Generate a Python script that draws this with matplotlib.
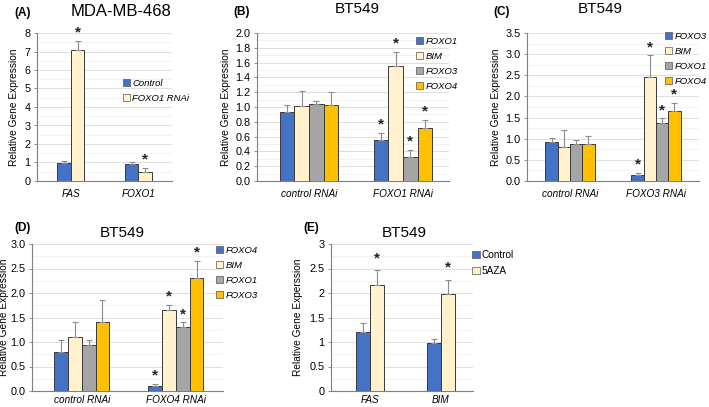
import numpy as np
import matplotlib
matplotlib.use('Agg')
import matplotlib.pyplot as plt
from matplotlib.patches import Patch
from matplotlib.ticker import MultipleLocator, FormatStrFormatter

plt.rcParams['font.family'] = ['Liberation Sans', 'DejaVu Sans']

# ---- data ----
colors = ['#4472C4', '#FFF2CC', '#A5A5A5', '#FFC000']

a_categories = ['FAS', 'FOXO1']
a_series = ['Control', 'FOXO1 RNAi']
a_values = [[0.95, 0.90], [7.07, 0.50]]
a_errors = [[0.15, 0.15], [0.50, 0.21]]
a_stars = [[False, False], [True, True]]

b_categories = ['control RNAi', 'FOXO1 RNAi']
b_series = ['FOXO1', 'BIM', 'FOXO3', 'FOXO4']
b_values = [[0.93, 0.55], [1.02, 1.55], [1.04, 0.32], [1.03, 0.72]]
b_errors = [[0.10, 0.10], [0.20, 0.20], [0.04, 0.10], [0.17, 0.10]]
b_stars = [[False, True]] * 4

c_categories = ['control RNAi', 'FOXO3 RNAi']
c_series = ['FOXO3', 'BIM', 'FOXO1', 'FOXO4']
c_values = [[0.93, 0.14], [0.80, 2.47], [0.88, 1.38], [0.87, 1.65]]
c_errors = [[0.09, 0.05], [0.40, 0.50], [0.10, 0.10], [0.19, 0.20]]
c_stars = [[False, True]] * 4

d_categories = ['control RNAi', 'FOXO4 RNAi']
d_series = ['FOXO4', 'BIM', 'FOXO1', 'FOXO3']
d_values = [[0.80, 0.10], [1.10, 1.65], [0.94, 1.30], [1.40, 2.30]]
d_errors = [[0.25, 0.05], [0.30, 0.10], [0.10, 0.10], [0.46, 0.36]]
d_stars = [[False, True]] * 4

e_categories = ['FAS', 'BIM']
e_series = ['Control', '5AZA']
e_values = [[1.20, 0.97], [2.17, 1.97]]
e_errors = [[0.18, 0.10], [0.30, 0.30]]
e_stars = [[False, False], [True, True]]

W, H = 709, 407
fig = plt.figure(figsize=(W / 100, H / 100), dpi=100)


def px_axes(left, right, top, bottom):
    return fig.add_axes([left / W, 1 - bottom / H, (right - left) / W, (bottom - top) / H])


def panel(rect, xlim, ymax, ystep, fmt, categories, series, values, errors, stars,
          bar_w, ylabel, leg_xy, leg_italic=True, star_pad=1.0, leg_size=6.8, labelpad=3,
          xpad=6):
    ax = px_axes(*rect)
    n = len(series)
    x = np.arange(len(categories))
    for i in range(n):
        pos = x + (i - (n - 1) / 2) * bar_w
        ax.bar(pos, values[i], bar_w, color=colors[i], edgecolor='#3a3a3a',
               linewidth=0.7, zorder=3)
        ax.errorbar(pos, values[i], yerr=[np.zeros(len(x)), errors[i]], fmt='none',
                    ecolor='#8c8c8c', elinewidth=0.8, capsize=2, capthick=0.8, zorder=4)
        for j in range(len(x)):
            if stars[i][j]:
                ax.annotate('*', (pos[j], values[i][j] + errors[i][j]),
                            xytext=(0, star_pad), textcoords='offset points',
                            ha='center', va='bottom', fontsize=11, fontweight='bold',
                            color='#222222', zorder=5)
    ax.set_xlim(*xlim)
    ax.set_ylim(0, ymax)
    ax.yaxis.set_major_locator(MultipleLocator(ystep))
    ax.yaxis.set_minor_locator(MultipleLocator(ystep / 2))
    ax.yaxis.set_major_formatter(FormatStrFormatter(fmt))
    ax.grid(axis='y', which='major', color='#d9d9d9', linewidth=0.6, zorder=0)
    ax.grid(axis='y', which='minor', color='#ededed', linewidth=0.5, zorder=0)
    ax.set_axisbelow(True)
    ax.set_xticks(x)
    ax.set_xticklabels(categories, fontstyle='italic', fontsize=7.2)
    ax.tick_params(axis='x', length=0, pad=xpad)
    ax.tick_params(axis='y', which='major', length=2.5, width=0.6, color='#7f7f7f',
                   labelsize=7.8, pad=2)
    ax.tick_params(axis='y', which='minor', length=0)
    for s in ['top', 'right']:
        ax.spines[s].set_visible(False)
    for s in ['left', 'bottom']:
        ax.spines[s].set_color('#7f7f7f')
        ax.spines[s].set_linewidth(0.8)
    ax.set_ylabel(ylabel, fontsize=7.3, labelpad=labelpad)
    handles = [Patch(facecolor=colors[i], edgecolor='#555555', linewidth=0.5) for i in range(n)]
    ax.legend(handles, series, loc='upper left', bbox_to_anchor=(leg_xy[0] / W, 1 - leg_xy[1] / H),
              bbox_transform=fig.transFigure, frameon=False, handlelength=0.75, handleheight=0.75,
              handletextpad=0.25, labelspacing=0.62, borderpad=0, borderaxespad=0,
              prop={'size': leg_size, 'style': 'italic' if leg_italic else 'normal'})
    return ax


panel((37, 172, 33, 181), (-0.5, 1.5), 8, 1, '%d', a_categories, a_series, a_values, a_errors,
      a_stars, 0.2, 'Relative Gene Expression', (123, 79), labelpad=4)
panel((257, 449, 33, 181), (-0.553, 1.49), 2.0, 0.2, '%.1f', b_categories, b_series, b_values,
      b_errors, b_stars, 0.155, 'Relative Gene Expression', (416, 37))
panel((527, 699, 33, 181), (-0.5, 1.5), 3.5, 0.5, '%.1f', c_categories, c_series, c_values,
      c_errors, c_stars, 0.143, 'Relative Gene Expression', (665, 32))
panel((32, 223, 244, 391), (-0.53, 1.5), 3.0, 0.5, '%.1f', d_categories, d_series, d_values,
      d_errors, d_stars, 0.146, 'Relative Gene Expression', (216, 246), labelpad=1, xpad=3)
panel((331, 473, 244, 391), (-0.55, 1.45), 3, 0.5, '%g', e_categories, e_series, e_values,
      e_errors, e_stars, 0.2, 'Relative Gene Experssion', (472, 250), leg_italic=False,
      star_pad=3.5, leg_size=7.2, labelpad=5, xpad=3)

# panel letters and titles
titles = [('(A)', 23, 13, 'MDA-MB-468', 121, 12, 12),
          ('(B)', 242, 12, 'BT549', 357, 9, 11),
          ('(C)', 502, 12, 'BT549', 600, 9, 11),
          ('(D)', 23, 228, 'BT549', 122, 233, 11),
          ('(E)', 311, 228, 'BT549', 404, 233, 11)]
for letter, lx, ly, title, tx, ty, size in titles:
    fig.text(lx / W, 1 - ly / H, letter, ha='center', va='center', fontsize=8.5, fontweight='bold')
    fig.text(tx / W, 1 - ty / H, title, ha='center', va='center', fontsize=size)

fig.savefig('out.png', dpi=100)
